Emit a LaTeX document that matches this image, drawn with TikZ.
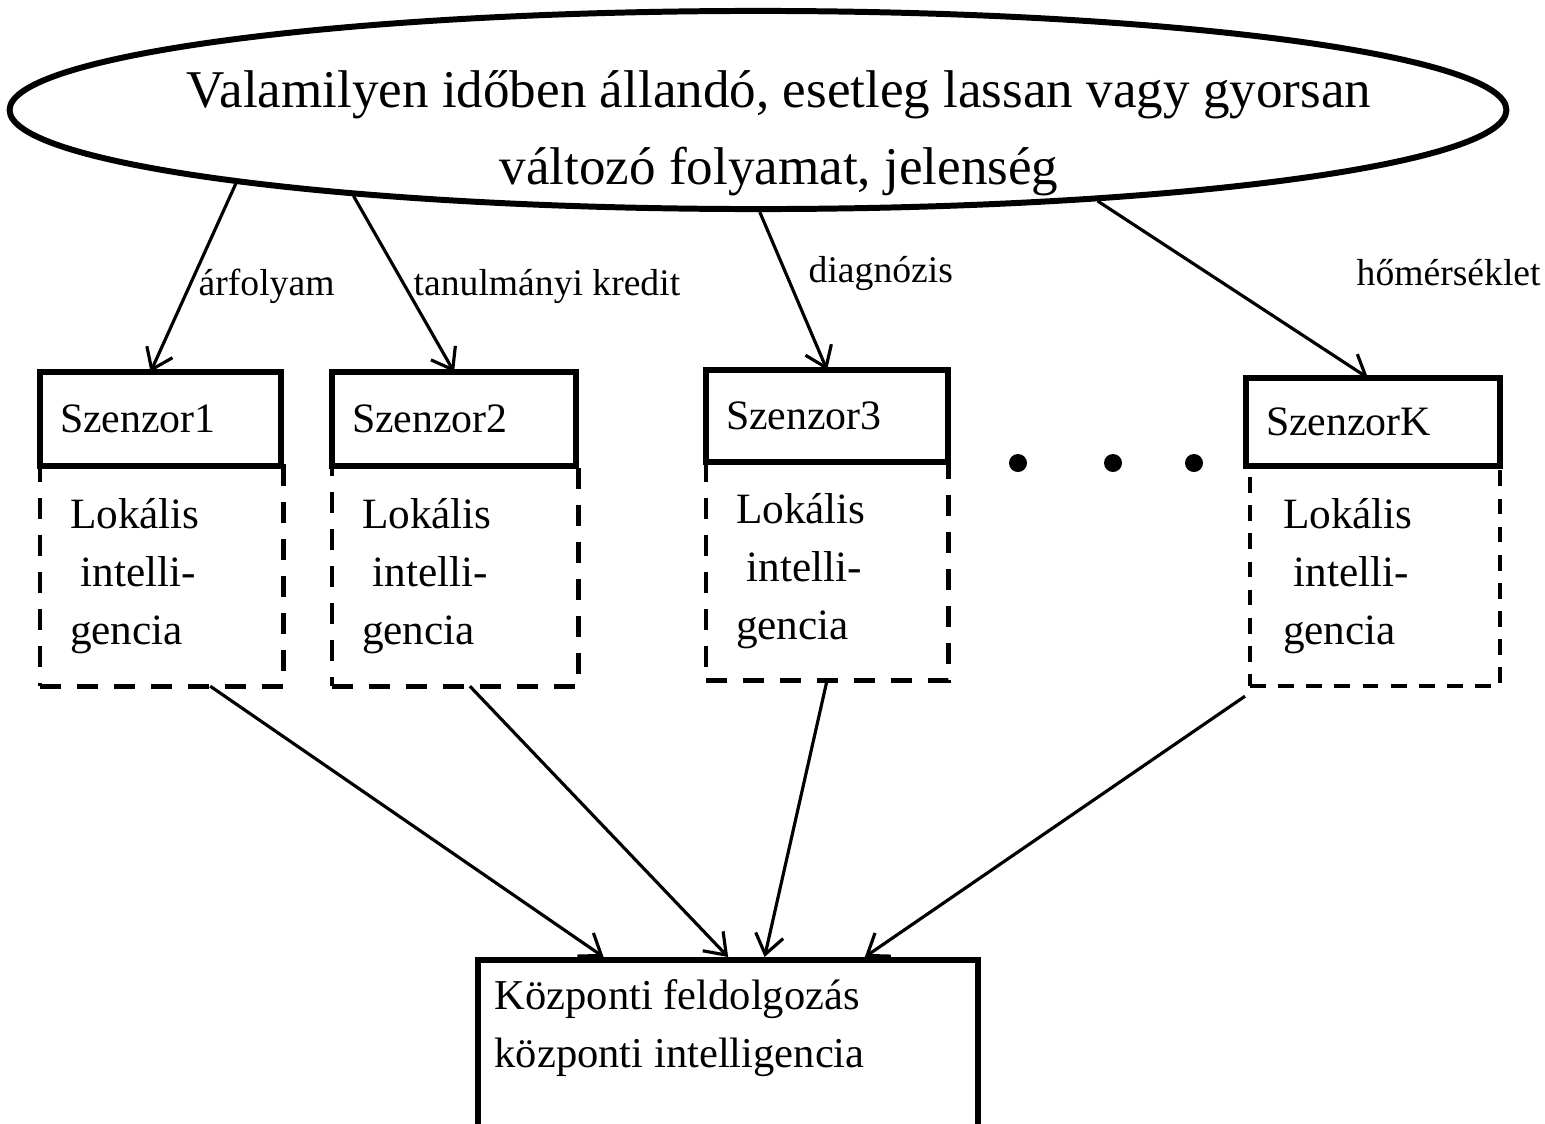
\documentclass[tikz,border=0pt]{standalone}
\usepackage{fontspec}
\setmainfont{Liberation Serif}
\usetikzlibrary{shapes.geometric,arrows.meta,positioning,calc}

\tikzset{
  sensor/.style={draw, line width=1.7pt, outer sep=0pt, inner xsep=0.2cm, minimum height=0.94cm, text width=#1, align=left, font=\fontsize{11.9}{14}\selectfont},
  local/.style={draw, line width=1.4pt, dash pattern=on 6pt off 4.5pt, outer sep=0pt, inner xsep=0.3cm, minimum height=2.2cm, text width=#1, align=left, font=\fontsize{12.3}{16.5}\selectfont},
  flow/.style={-{Straight Barb[length=5.5pt,width=8pt]}, line width=0.9pt},
  lab/.style={font=\fontsize{10.7}{12}\selectfont, inner sep=0pt},
}

\begin{document}
\begin{tikzpicture}[x=0.01cm, y=-0.01cm]
\useasboundingbox (0,0) rectangle (1545,1124);
\clip (0,0) rectangle (1545,1124);
% phenomenon
\node[draw, ellipse, line width=1.7pt, minimum width=14.96cm, minimum height=1.98cm, inner sep=0pt] (phen) at (758,110) {};
\node[align=center, inner sep=0pt, font=\fontsize{15.1}{21.9}\selectfont] (phentxt) at (779,133) {Valamilyen időben állandó, esetleg lassan vagy gyorsan\\változó folyamat, jelenség};
% sensors
\node[sensor=2.01cm, anchor=north west] (s1) at (40,372) {Szenzor1};
\node[sensor=2.04cm, anchor=north west] (s2) at (332,372) {Szenzor2};
\node[sensor=2.02cm, anchor=north west, minimum height=0.92cm] (s3) at (706,370) {Szenzor3};
\node[sensor=2.14cm, anchor=north west, minimum height=0.88cm] (sk) at (1246,378) {SzenzorK};
% local intelligence
\node[local=1.83cm, anchor=north west] (l1) at (s1.south west) {Lokális\\\hspace*{0.25em}intelli-\\gencia};
\node[local=1.86cm, anchor=north west] (l2) at (s2.south west) {Lokális\\\hspace*{0.25em}intelli-\\gencia};
\node[local=1.82cm, anchor=north west, minimum height=2.18cm] (l3) at (s3.south west) {Lokális\\\hspace*{0.25em}intelli-\\gencia};
\node[local=1.84cm, anchor=north west, inner xsep=0.33cm, line width=1pt, dash pattern=on 4.5pt off 3.5pt] (lk) at ([xshift=0.04cm]sk.south west) {Lokális\\\hspace*{0.25em}intelli-\\gencia};
% dots
\foreach \x in {1018,1113,1194} \fill (\x,463) circle (0.09cm);
% central
\node[draw, line width=1.7pt, anchor=north west, minimum width=5cm, minimum height=1.9cm] (cent) at (475,957) {};
\node[anchor=north west, align=left, inner sep=0pt, font=\fontsize{12.1}{16.4}\selectfont] (centtxt) at (494,979) {Központi feldolgozás\\központi intelligencia};
% arrows down
\draw[flow] (phen.188.45) -- ([xshift=-0.1cm]s1.north);
\draw[flow] (phen.192.4) -- (s2.north);
\draw[flow] (phen.271.1) -- (s3.north);
\draw[flow] (phen.345.6) -- ([xshift=-0.05cm]sk.north);
\node[lab, anchor=base west] (lab1) at (198,295) {árfolyam};
\node[lab, anchor=base west] (lab2) at (413,295) {tanulmányi kredit};
\node[lab, anchor=base west] (lab3) at (808,282) {diagnózis};
\node[lab, anchor=base west] (lab4) at (1356,285) {hőmérséklet};
% arrows to central
\draw[flow] ($(l1.south west)!0.70!(l1.south east)$) -- ($(cent.north west)!0.254!(cent.north east)$);
\draw[flow] ($(l2.south west)!0.56!(l2.south east)$) -- ($(cent.north west)!0.5!(cent.north east)$);
\draw[flow] (l3.south) -- ($(cent.north west)!0.572!(cent.north east)$);
\draw[flow] ([shift={(-5,10)}]lk.south west) -- ($(cent.north west)!0.77!(cent.north east)$);
\end{tikzpicture}
\end{document}
